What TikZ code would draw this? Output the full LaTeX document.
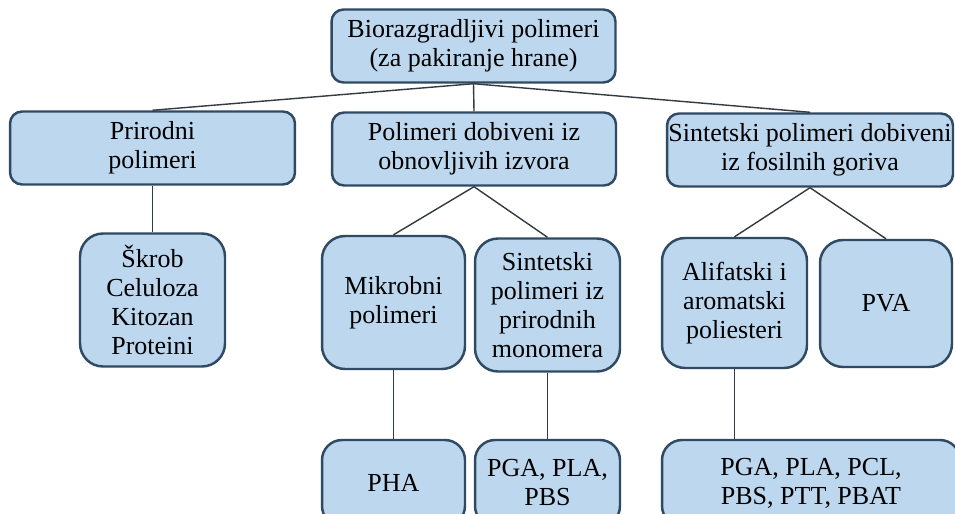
\documentclass[tikz,border=0pt]{standalone}
\usepackage{fontspec}
\setmainfont{Liberation Serif}
\usepackage{tikz}
\definecolor{boxfill}{RGB}{189,215,238}
\definecolor{boxline}{RGB}{47,74,98}
\definecolor{link}{RGB}{50,58,66}
\usetikzlibrary{positioning}
\tikzset{%
  group/.style={draw=boxline, line width=1.4pt, fill=boxfill, rounded corners=0.24cm,
    align=center, inner sep=0pt, font=\fontsize{14.8}{16.5}\selectfont},% category box
  wide/.style={group, minimum width=5.68cm, minimum height=1.46cm},% first two rows
  tall/.style={group, minimum width=2.9cm, minimum height=2.66cm, rounded corners=0.46cm},% third row
  leaf/.style={group, minimum width=2.9cm, minimum height=1.72cm, rounded corners=0.4cm},% examples
  branch/.style={draw=link, line width=0.8pt}% connector
}
\begin{document}
\begin{tikzpicture}[x=0.02cm, y=-0.02cm]
\clip (0,0) rectangle (955,513);

\node[wide] (top) at (473.5,46) {Biorazgradljivi polimeri\\(za pakiranje hrane)};

\node[wide, minimum width=5.7cm] (prir) at (152.5,148) {Prirodni\\polimeri};
\node[wide] (obnov) at (474,149) {Polimeri dobiveni iz\\obnovljivih izvora};
\node[wide, minimum width=5.72cm] (fosil) at (810,150) {Sintetski polimeri dobiveni\\iz fosilnih goriva};

\node[tall] (skrob) at (152.5,300) {Škrob\\Celuloza\\Kitozan\\Proteini};
\node[tall, minimum width=2.86cm] (mikro) at (393.5,302.5) {Mikrobni\\polimeri};
\node[tall] (sintmon) at (547.5,305) {Sintetski\\polimeri iz\\prirodnih\\monomera};
\node[tall, minimum height=2.6cm] (alif) at (734.5,303) {Alifatski i\\aromatski\\poliesteri};
\node[tall, minimum width=2.64cm, minimum height=2.54cm] (pva) at (886,303.5) {PVA};

\node[leaf, minimum width=2.86cm] (pha) at (393.5,483) {PHA};
\node[leaf] (pgab) at (547.5,483) {PGA, PLA,\\PBS};
\node[leaf, minimum width=5.96cm] (pgac) at (811,483) {PGA, PLA, PCL,\\PBS, PTT, PBAT};

\draw[branch] (top.south) -- (prir.north);
\draw[branch] (top.south) -- (obnov.north);
\draw[branch] (top.south) -- (fosil.north);
\draw[branch] (prir.south) -- (skrob.north);
\draw[branch] (obnov.south) -- (mikro.north);
\draw[branch] (obnov.south) -- (sintmon.north);
\draw[branch] (fosil.south) -- (alif.north);
\draw[branch] (fosil.south) -- (pva.north);
\draw[branch] (mikro.south) -- (pha.north);
\draw[branch] (sintmon.south) -- (pgab.north);
\draw[branch] (alif.south) -- (alif.south |- pgac.north);

\end{tikzpicture}
\end{document}
